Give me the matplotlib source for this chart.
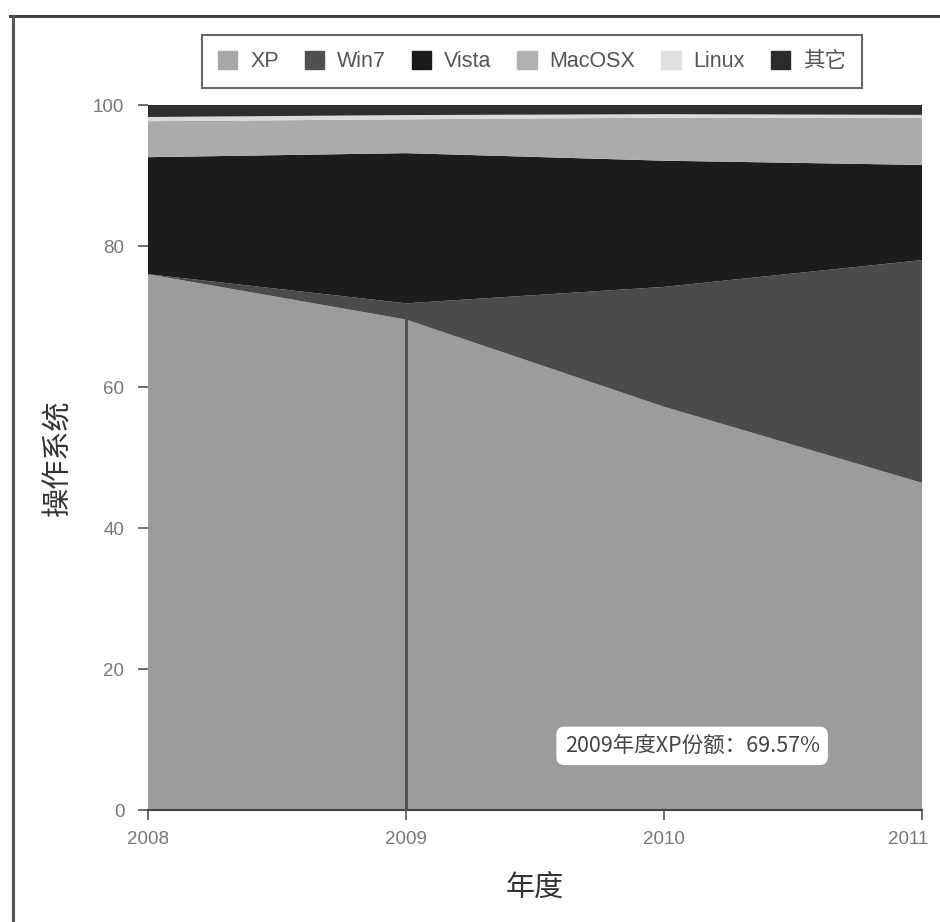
import matplotlib
matplotlib.use("Agg")
import matplotlib.pyplot as plt
import matplotlib.transforms as mtransforms
from matplotlib.patches import Patch
from matplotlib.lines import Line2D

plt.rcParams['font.family'] = ['Liberation Sans', 'Noto Sans CJK SC', 'DejaVu Sans']

# Operating-system market share by year (percent, stacked)
years = [2008, 2009, 2010, 2011]
series_names = ['XP', 'Win7', 'Vista', 'MacOSX', 'Linux', '其它']
xp = [76.0, 69.57, 57.2, 46.4]
win7 = [0.0, 2.3, 17.0, 31.6]
vista = [16.6, 21.3, 17.9, 13.5]
macosx = [5.1, 4.8, 6.1, 6.7]
linux = [0.6, 0.6, 0.5, 0.4]
other = [1.7, 1.43, 1.3, 1.4]

y_ticks = [0, 20, 40, 60, 80, 100]
x_label = '年度'
y_label = '操作系统'
highlight_year = 2009
tooltip_text = '2009年度XP份额：69.57%'

fill_colors = ['#9c9c9c', '#4b4b4b', '#1c1c1c', '#ababab', '#dadada', '#2e2e2e']
swatch_colors = ['#a8a8a8', '#505050', '#1a1a1a', '#b0b0b0', '#e0e0e0', '#2a2a2a']

fig = plt.figure(figsize=(9.4, 9.22), dpi=100)
W, H = 940, 922
ax = fig.add_axes([148 / W, 1 - 810 / H, (922 - 148) / W, (810 - 105) / H])

ax.stackplot(years, xp, win7, vista, macosx, linux, other,
             colors=fill_colors, linewidth=0)

ax.set_xlim(years[0], years[-1])
ax.set_ylim(0, 100)
ax.set_xticks(years)
ax.set_xticklabels([str(y) for y in years])
ax.set_yticks(y_ticks)

for side in ('left', 'right', 'top'):
    ax.spines[side].set_visible(False)
ax.spines['bottom'].set_color('#444444')
ax.spines['bottom'].set_linewidth(1.5)
ax.tick_params(axis='both', colors='#555555', labelcolor='#777777',
               labelsize=13.5, length=7, width=1.2)
ax.tick_params(axis='x', pad=8)
ax.tick_params(axis='y', pad=10)

# Keep the last year label inside the canvas
last_label = ax.get_xticklabels()[-1]
last_label.set_transform(last_label.get_transform() +
                         mtransforms.ScaledTranslation(-14 / 100, 0, fig.dpi_scale_trans))

# Pointer line at the highlighted year
hi = years.index(highlight_year)
ax.plot([highlight_year, highlight_year], [0, xp[hi]],
        color='#505050', linewidth=2.2, zorder=3)

ax.text(0.703, 0.091, tooltip_text, transform=ax.transAxes,
        ha='center', va='center', fontsize=15.5, color='#444444',
        family=['Noto Sans CJK SC', 'DejaVu Sans'],
        bbox=dict(boxstyle='round,pad=0.35', facecolor='white',
                  edgecolor='white'), zorder=4)

ax.set_xlabel(x_label, fontsize=21, color='#333333',
              family=['Noto Sans CJK SC', 'DejaVu Sans'], labelpad=18)
ax.set_ylabel(y_label, fontsize=21, color='#333333',
              family=['Noto Sans CJK SC', 'DejaVu Sans'], labelpad=14)

handles = [Patch(facecolor=c, edgecolor=c) for c in swatch_colors]
leg = fig.legend(handles, series_names, loc='center',
                 bbox_to_anchor=(532 / W, 1 - 61.5 / H), ncol=6,
                 frameon=True, fancybox=False,
                 handlelength=0.9, handleheight=0.9, handletextpad=0.6,
                 columnspacing=1.2, borderpad=0.75,
                 prop={'family': ['Liberation Sans', 'Noto Sans CJK SC'], 'size': 15.5})
leg.get_frame().set_edgecolor('#444444')
leg.get_frame().set_linewidth(1.5)
for t in leg.get_texts():
    t.set_color('#555555')

# Page border
fig.add_artist(Line2D([10 / W, 1.0], [1 - 16 / H, 1 - 16 / H],
                      transform=fig.transFigure, color='#444444', linewidth=2.2))
fig.add_artist(Line2D([13 / W, 13 / W], [1 - 16 / H, 0.0],
                      transform=fig.transFigure, color='#555555', linewidth=2.2))

fig.savefig('out.png', dpi=100)
